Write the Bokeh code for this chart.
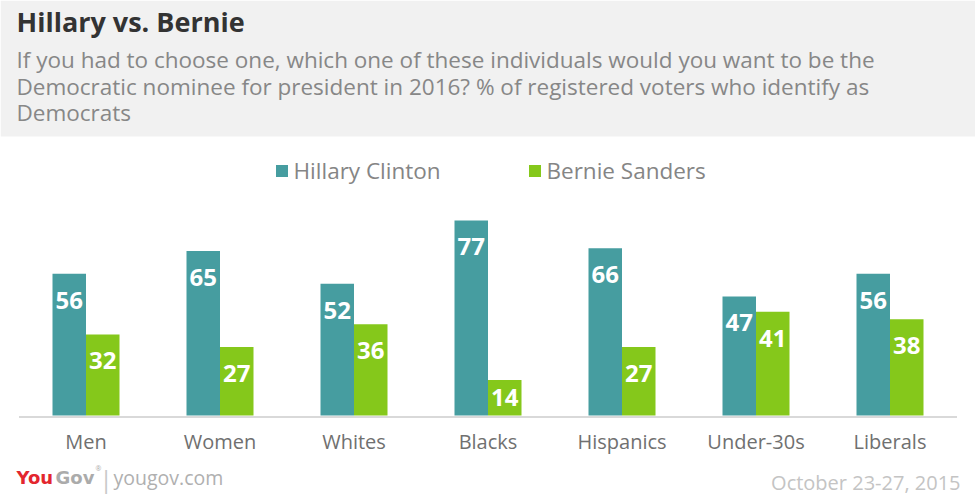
from bokeh.plotting import figure
from bokeh.models import (ColumnDataSource, FactorRange, Range1d, Label,
                          BoxAnnotation, Legend, LegendItem)
from bokeh.transform import dodge
from bokeh.core.properties import value
from bokeh.embed import file_html
from bokeh.resources import INLINE

# ---------------- data ----------------
categories = ["Men", "Women", "Whites", "Blacks", "Hispanics", "Under-30s", "Liberals"]
clinton = [56, 65, 52, 77, 66, 47, 56]
sanders = [32, 27, 36, 14, 27, 41, 38]
series_names = ["Hillary Clinton", "Bernie Sanders"]

title_text = "Hillary vs. Bernie"
subtitle_lines = [
    "If you had to choose one, which one of these individuals would you want to be the",
    "Democratic nominee for president in 2016? % of registered voters who identify as",
    "Democrats",
]
date_text = "October 23-27, 2015"
site_text = "yougov.com"

# ---------------- layout / style ----------------
W, H = 975, 501
BASE_PX = 415          # pixel row of the zero line
PPU = 2.5325           # pixels per percentage point
STEP_PX = 134.0        # pixels per category
HEADER_PX = 136
C_COL = "#469da0"
S_COL = "#85c81b"
LABEL_OFF = 10.4       # value-label offset below bar top (data units)
FONT = "Open Sans"
LOGO_FONT = "DejaVu Sans"


def py(px):
    """Convert a pixel row (from top) to the y data coordinate."""
    return (BASE_PX - px) / PPU


pad = (W / STEP_PX - len(categories)) / 2.0
x_range = FactorRange(factors=categories, range_padding=pad,
                      range_padding_units="absolute")
y_range = Range1d(py(H), py(0))

p = figure(width=W, height=H, x_range=x_range, y_range=y_range,
           output_backend="svg", toolbar_location=None,
           min_border=0, min_border_left=0, min_border_right=0,
           min_border_top=0, min_border_bottom=0)
p.axis.visible = False
p.grid.visible = False
p.outline_line_color = None
p.background_fill_color = "white"
p.border_fill_color = "white"

# header band
p.add_layout(BoxAnnotation(bottom=py(HEADER_PX), fill_color="#f1f1f1",
                           fill_alpha=1.0, line_alpha=0, level="underlay"))

src = ColumnDataSource(dict(
    cat=categories,
    clinton=clinton,
    sanders=sanders,
    c_txt=[str(v) for v in clinton],
    s_txt=[str(v) for v in sanders],
    c_lab=[max(v - LABEL_OFF, v / 2.0) for v in clinton],
    s_lab=[max(v - LABEL_OFF, v / 2.0) for v in sanders],
    cat_y=[py(440.5)] * len(categories),
))

r_c = p.vbar(x=dodge("cat", -0.125, range=p.x_range), top="clinton", bottom=0,
             width=0.25, source=src, fill_color=C_COL, line_color=None)
r_s = p.vbar(x=dodge("cat", 0.125, range=p.x_range), top="sanders", bottom=0,
             width=0.25, source=src, fill_color=S_COL, line_color=None)

# baseline (axis line) spanning all categories
p.segment(x0=[0], x1=[len(categories)], y0=[py(416.5)], y1=[py(416.5)],
          line_color="#d9d9d9", line_width=2)

# value labels
for ycol, tcol, off in (("c_lab", "c_txt", -0.125), ("s_lab", "s_txt", 0.125)):
    p.text(x=dodge("cat", off, range=p.x_range), y=ycol, text=tcol, source=src,
           text_align="center", text_baseline="middle", text_color="white",
           text_font=value(FONT), text_font_style="bold", text_font_size="24px")

# category labels
p.text(x="cat", y="cat_y", text="cat", source=src, text_align="center",
       text_baseline="middle", text_color="#707070", text_font=value(FONT),
       text_font_size="20px")

# legends (one per series, positioned independently)
for r, name, lx in ((r_c, series_names[0], 273.5), (r_s, series_names[1], 526.5)):
    lg = Legend(items=[LegendItem(label=name, renderers=[r])],
                location=(lx, H - 186), orientation="horizontal",
                glyph_width=15, glyph_height=15, label_standoff=5,
                label_text_font=FONT, label_text_font_size="22.5px",
                label_text_color="#858585", label_text_baseline="middle",
                padding=0, margin=0, spacing=0,
                border_line_alpha=0, background_fill_alpha=0)
    p.add_layout(lg, "center")


def label(x, ypx, text, size, color, font=FONT, style="normal", align="left"):
    p.add_layout(Label(x=x, y=py(ypx), x_units="screen", text=text,
                       text_font=font, text_font_style=style,
                       text_font_size=size, text_color=color,
                       text_align=align, text_baseline="middle"))


# title & subtitle
label(16, 21, title_text, "27px", "#333333", style="bold")
for i, line in enumerate(subtitle_lines):
    label(16, 59 + 26.5 * i, line, "22.5px", "#878787")

# footer
label(16, 476.5, "You", "18px", "#e3262e", font=LOGO_FONT, style="bold")
label(55, 476.5, "Gov", "18px", "#ababab", font=LOGO_FONT, style="bold")
label(95, 468, "\u00ae", "7px", "#ababab")
label(99, 478, "|", "24px", "#c8c8c8")
label(113, 477, site_text, "19.5px", "#b0b0b0")
label(960, 482, date_text, "20px", "#c4c4c4", align="right")

html = file_html(p, INLINE, title="Hillary vs. Bernie")
open("out.html", "w").write(html)
